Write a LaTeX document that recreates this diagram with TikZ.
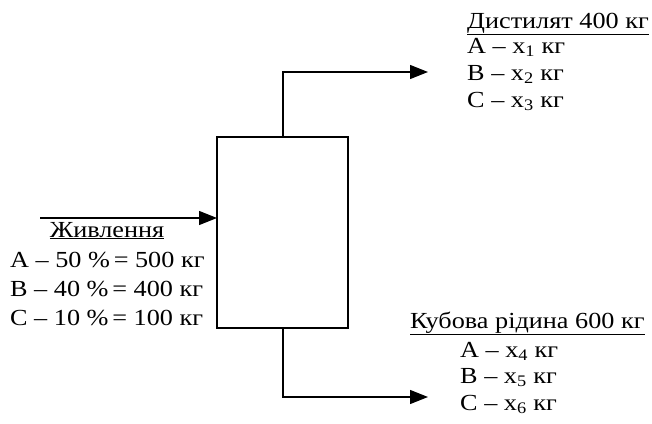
\documentclass[tikz,border=0pt]{standalone}
\usepackage{fontspec}
\setmainfont[FakeStretch=1.14]{Liberation Serif}
\usetikzlibrary{arrows.meta}
\begin{document}
\begin{tikzpicture}[x=1pt,y=-1pt,
  lbl/.style={inner sep=0pt,font=\fontsize{23}{27}\selectfont},
  flow/.style={line width=1.2pt,-{Triangle[length=18pt,width=14pt]}},
  column/.style={draw,line width=2pt,minimum width=131pt,minimum height=191pt,inner sep=0pt}]
\useasboundingbox (0,0) rectangle (652,423);
\node[column] (col) at (282.5,232.5) {};
\coordinate (topout) at (283,137);
\coordinate (topbend) at (283,72);
\coordinate (toptip) at (428,72);
\coordinate (botout) at (283,328);
\coordinate (botbend) at (283,397);
\coordinate (bottip) at (428,397);
\coordinate (feedstart) at (40,218);
\coordinate (feedtip) at (217,218);
\draw[flow] (topout) -- (topbend) -- (toptip);
\draw[flow] (botout) -- (botbend) -- (bottip);
\draw[flow] (feedstart) -- (feedtip);
% feed
\node[lbl,anchor=base] (feed) at (107,237) {\underline{Живлення}};
\node[lbl,anchor=base west] (fa) at (10,267) {A – 50 \%\,= 500 кг};
\node[lbl,anchor=base west] (fb) at (10,296) {B – 40 \%\,= 400 кг};
\node[lbl,anchor=base west] (fc) at (10,325) {C – 10 \%\,= 100 кг};
% distillate
\node[lbl,anchor=base west] (dist) at (467,28) {\underline{Дистилят 400 кг}};
\node[lbl,anchor=base west] (da) at (467,53) {A – x\textsubscript{1} кг};
\node[lbl,anchor=base west] (db) at (467,80) {B – x\textsubscript{2} кг};
\node[lbl,anchor=base west] (dc) at (467,107) {C – x\textsubscript{3} кг};
% bottoms
\node[lbl,anchor=base west] (bot) at (410,328) {\underline{Кубова рідина 600 кг}};
\node[lbl,anchor=base west] (ba) at (460,357) {A – x\textsubscript{4} кг};
\node[lbl,anchor=base west] (bb) at (460,383) {B – x\textsubscript{5} кг};
\node[lbl,anchor=base west] (bc) at (460,410) {C – x\textsubscript{6} кг};
\end{tikzpicture}
\end{document}
